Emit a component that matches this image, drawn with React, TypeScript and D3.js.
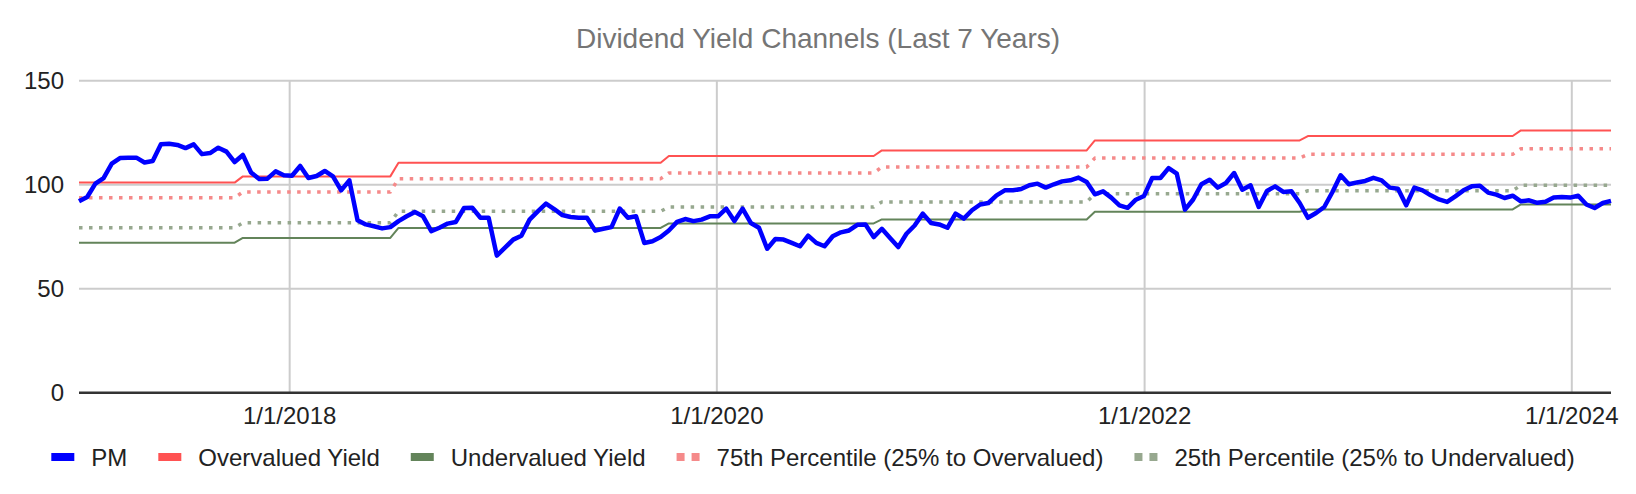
import { useEffect, useRef } from 'react'
import * as d3 from 'd3'

// PM price, one reading every two weeks starting at firstDate
const pmValues = [
  92.0, 94.1, 100.5, 103.2, 110.1, 112.8, 113.0, 113.0, 110.7, 111.4,
  119.4, 119.7, 119.1, 117.6, 119.4, 114.7, 115.2, 117.8, 115.9, 110.9,
  114.3, 105.9, 102.7, 102.9, 106.4, 104.5, 104.3, 109.0, 103.2, 104.2,
  106.6, 104.0, 97.3, 102.1, 82.9, 80.9, 80.0, 79.0, 79.6, 82.5,
  84.8, 86.9, 84.8, 77.7, 79.3, 81.3, 82.1, 88.8, 88.9, 84.1,
  84.1, 65.9, 69.7, 73.6, 75.5, 83.2, 87.2, 90.9, 88.3, 85.4,
  84.5, 84.1, 84.1, 77.9, 78.8, 79.6, 88.5, 84.1, 84.8, 72.0,
  72.8, 74.8, 78.0, 82.1, 83.5, 82.5, 83.2, 84.8, 84.8, 88.5,
  82.5, 88.5, 81.6, 79.3, 69.2, 73.9, 73.6, 72.0, 70.4, 75.5,
  72.0, 70.4, 75.2, 77.1, 78.0, 80.7, 80.9, 74.8, 78.8, 74.4,
  70.0, 76.4, 80.4, 86.1, 81.6, 80.9, 79.3, 86.1, 83.7, 87.7,
  90.5, 91.2, 94.9, 97.3, 97.3, 97.9, 99.7, 100.5, 98.6, 100.2,
  101.6, 102.1, 103.4, 101.3, 95.4, 96.8, 93.8, 90.1, 88.9, 92.8,
  94.6, 103.2, 103.2, 108.0, 105.3, 88.0, 92.9, 100.2, 102.4, 98.6,
  100.8, 105.6, 97.6, 99.7, 89.3, 97.0, 99.2, 96.5, 96.8, 91.2,
  84.1, 86.4, 89.3, 96.5, 104.5, 100.2, 101.1, 101.8, 103.3, 102.1,
  98.6, 98.1, 90.1, 98.6, 97.3, 94.9, 92.9, 91.7, 94.4, 97.3,
  99.2, 99.5, 96.2, 95.2, 93.6, 94.7, 92.0, 92.5, 91.3, 91.8,
  93.8, 94.1, 93.8, 94.7, 90.5, 88.8, 91.2, 92.2,
]
const firstDate = '2017-01-06'
const stepDays = 14

// channel levels, each valid from its start date until the next one
const channelStarts = [
  '2017-01-06', '2017-10-13', '2018-07-06', '2019-10-11',
  '2020-10-09', '2021-10-08', '2022-10-07', '2023-10-06',
]
const overvalued = [101.0, 104.0, 110.6, 113.8, 116.5, 121.3, 123.4, 126.1]
const undervalued = [72.1, 74.4, 79.2, 81.4, 83.3, 87.0, 88.1, 90.5]
const pct75 = [93.7, 96.5, 102.9, 105.6, 108.5, 112.8, 114.6, 117.3]
const pct25 = [79.3, 81.7, 87.2, 89.3, 91.7, 95.7, 97.1, 99.7]

const yTicks = [0, 50, 100, 150]
const xTickLabels = ['1/1/2018', '1/1/2020', '1/1/2022', '1/1/2024']

const seriesNames = [
  'PM',
  'Overvalued Yield',
  'Undervalued Yield',
  '75th Percentile (25% to Overvalued)',
  '25th Percentile (25% to Undervalued)',
]
const seriesColors = ['#0000ff', '#ff5252', '#63845a', '#f58a8a', '#97a88f']

interface Point {
  date: Date
  value: number
}

const FONT = '"Liberation Sans", Arial, sans-serif'

export default function App() {
  const svgRef = useRef<SVGSVGElement>(null)

  useEffect(() => {
    if (!svgRef.current) return

    const width = 1636
    const height = 494
    const plot = { left: 79, right: 1611, top: 80.7, bottom: 392.7 }

    const svg = d3.select(svgRef.current)
    svg.selectAll('*').remove()
    svg.attr('width', width).attr('height', height)

    svg.append('rect').attr('width', width).attr('height', height).attr('fill', '#ffffff')

    const parseIso = d3.timeParse('%Y-%m-%d')
    const parseTick = d3.timeParse('%-m/%-d/%Y')
    const start = parseIso(firstDate) as Date
    const dates = pmValues.map((_, i) => d3.timeDay.offset(start, i * stepDays))
    const startDates = channelStarts.map(s => parseIso(s) as Date)

    const channelSeries = (levels: number[]): Point[] =>
      dates.map(date => ({
        date,
        value: levels[d3.bisectRight(startDates, date) - 1],
      }))

    const pmSeries: Point[] = dates.map((date, i) => ({ date, value: pmValues[i] }))

    const xScale = d3.scaleTime()
      .domain([dates[0], dates[dates.length - 1]])
      .range([plot.left, plot.right])

    const yScale = d3.scaleLinear()
      .domain([0, 150])
      .range([plot.bottom, plot.top])

    // 网格
    svg.append('g')
      .selectAll('line')
      .data(yTicks.filter(t => t !== 0))
      .enter()
      .append('line')
      .attr('x1', plot.left)
      .attr('x2', plot.right)
      .attr('y1', d => yScale(d))
      .attr('y2', d => yScale(d))
      .attr('stroke', '#cccccc')
      .attr('stroke-width', 2)

    const tickDates = xTickLabels.map(s => parseTick(s) as Date)
    svg.append('g')
      .selectAll('line')
      .data(tickDates)
      .enter()
      .append('line')
      .attr('x1', d => xScale(d))
      .attr('x2', d => xScale(d))
      .attr('y1', plot.top)
      .attr('y2', plot.bottom)
      .attr('stroke', '#cccccc')
      .attr('stroke-width', 2)

    // 基线
    svg.append('line')
      .attr('x1', plot.left)
      .attr('x2', plot.right)
      .attr('y1', yScale(0))
      .attr('y2', yScale(0))
      .attr('stroke', '#333333')
      .attr('stroke-width', 2.5)

    // Y labels
    svg.append('g')
      .selectAll('text')
      .data(yTicks)
      .enter()
      .append('text')
      .attr('x', 64)
      .attr('y', d => yScale(d) + 8.5)
      .attr('text-anchor', 'end')
      .attr('font-family', FONT)
      .attr('font-size', 24)
      .attr('fill', '#222222')
      .text(d => String(d))

    // X labels
    svg.append('g')
      .selectAll('text')
      .data(tickDates)
      .enter()
      .append('text')
      .attr('x', d => xScale(d))
      .attr('y', 423.5)
      .attr('text-anchor', 'middle')
      .attr('font-family', FONT)
      .attr('font-size', 24)
      .attr('fill', '#222222')
      .text((_, i) => xTickLabels[i])

    const line = d3.line<Point>()
      .x(d => xScale(d.date))
      .y(d => yScale(d.value))

    const drawSeries = (data: Point[], color: string, w: number, dash?: string) => {
      const p = svg.append('path')
        .datum(data)
        .attr('fill', 'none')
        .attr('stroke', color)
        .attr('stroke-width', w)
        .attr('stroke-linejoin', 'round')
        .attr('d', line)
      if (dash) p.attr('stroke-dasharray', dash)
    }

    drawSeries(channelSeries(overvalued), seriesColors[1], 2)
    drawSeries(channelSeries(undervalued), seriesColors[2], 2)
    drawSeries(channelSeries(pct75), seriesColors[3], 3.5, '3.5 6.5')
    drawSeries(channelSeries(pct25), seriesColors[4], 3.5, '3.5 6.5')
    drawSeries(pmSeries, seriesColors[0], 4.5)

    // 标题
    svg.append('text')
      .attr('x', width / 2)
      .attr('y', 48)
      .attr('text-anchor', 'middle')
      .attr('font-family', FONT)
      .attr('font-size', 28)
      .attr('fill', '#757575')
      .text('Dividend Yield Channels (Last 7 Years)')

    // 图例
    const legendY = 457
    const swatchW = 23
    const legend = svg.append('g')
    let cursor = 0
    seriesNames.forEach((name, i) => {
      const item = legend.append('g').attr('transform', `translate(${cursor},0)`)
      if (i < 3) {
        item.append('rect')
          .attr('x', 0)
          .attr('y', legendY - 4)
          .attr('width', swatchW)
          .attr('height', 8)
          .attr('fill', seriesColors[i])
      } else {
        ;[0, 15].forEach(off => {
          item.append('rect')
            .attr('x', off)
            .attr('y', legendY - 4)
            .attr('width', 8)
            .attr('height', 8)
            .attr('fill', seriesColors[i])
        })
      }
      const t = item.append('text')
        .attr('x', swatchW + 17)
        .attr('y', legendY + 8.5)
        .attr('font-family', FONT)
        .attr('font-size', 24)
        .attr('fill', '#222222')
        .text(name)
      const tw = (t.node() as SVGTextElement).getComputedTextLength()
      cursor += swatchW + 17 + tw + 31
    })
    const legendWidth = cursor - 31
    legend.attr('transform', `translate(${(width - legendWidth) / 2 - 5},0)`)
  }, [])

  return (
    <div>
      <style>{'body { margin: 0; }'}</style>
      <svg ref={svgRef} style={{ display: 'block' }} />
    </div>
  )
}
